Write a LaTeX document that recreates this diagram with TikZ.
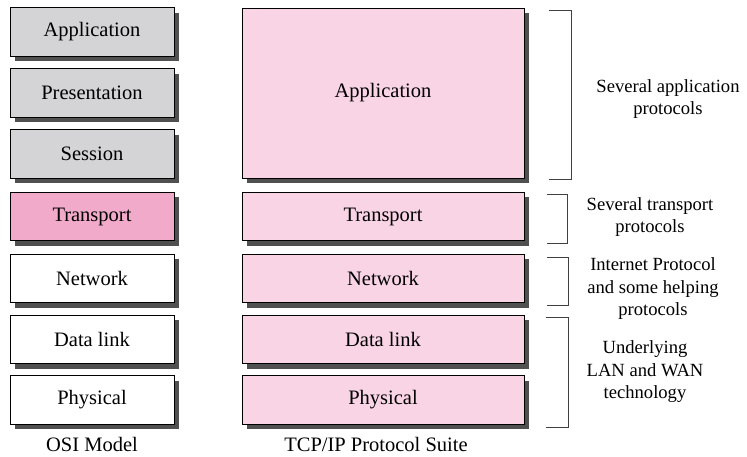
\documentclass[tikz,border=0pt]{standalone}
\usepackage{fontspec}
\setmainfont{Liberation Serif}
\definecolor{boxgray}{HTML}{D4D4D6}
\definecolor{pinkdark}{HTML}{F2AACB}
\definecolor{pinklight}{HTML}{F9D4E5}
\definecolor{shadowgray}{HTML}{505050}
\definecolor{brgray}{HTML}{404040}
\begin{document}
\begin{tikzpicture}[x=1pt,y=-1pt,
  layer/.style={draw=black, line width=0.9pt, minimum height=48.5pt,
    inner sep=0pt, font=\fontsize{20.5}{24}\selectfont},
  osi/.style={layer, minimum width=164pt},
  tcp/.style={layer, minimum width=282pt, fill=pinklight},
  shad/.style={fill=shadowgray},
  brk/.style={draw=brgray, line width=1pt},
  note/.style={align=center, font=\fontsize{18.6}{22.5}\selectfont},
  lbl/.style={font=\fontsize{20.5}{24}\selectfont}]
\useasboundingbox (0,0) rectangle (747,456);
% shadows (drawn first)
\fill[shad] (15,13) rectangle (179,61);
\fill[shad] (15,74) rectangle (179,122);
\fill[shad] (15,135) rectangle (179,183);
\fill[shad] (15,197) rectangle (179,246);
\fill[shad] (15,259) rectangle (179,308);
\fill[shad] (15,320) rectangle (179,369);
\fill[shad] (15,381) rectangle (179,429);
\fill[shad] (247,13) rectangle (529,183);
\fill[shad] (247,197) rectangle (529,246);
\fill[shad] (247,259) rectangle (529,308);
\fill[shad] (247,320) rectangle (529,369);
\fill[shad] (247,381) rectangle (529,429);
% OSI column
\node[osi, fill=boxgray] (oapp) at (92,32) {Application};
\node[osi, fill=boxgray] (opre) at (92,93) {Presentation};
\node[osi, fill=boxgray] (oses) at (92,154) {Session};
\node[osi, fill=pinkdark] (otra) at (92,216.5) {Transport};
\node[osi, fill=white] (onet) at (92,278.5) {Network};
\node[osi, fill=white] (odl) at (92,339.5) {Data link};
\node[osi, fill=white] (ophy) at (92,400) {Physical};
\node[lbl] (osilbl) at (92,444) {OSI Model};
% TCP/IP column
\node[tcp, minimum height=170pt] (tapp) at (383,93) {Application};
\node[tcp] (ttra) at (383,216.5) {Transport};
\node[tcp] (tnet) at (383,278.5) {Network};
\node[tcp] (tdl) at (383,339.5) {Data link};
\node[tcp] (tphy) at (383,400) {Physical};
\node[lbl] (tcplbl) at (376,444) {TCP/IP Protocol Suite};
% brackets
\coordinate (b1a) at (549,10); \coordinate (b1b) at (571,10);
\coordinate (b1c) at (571,179); \coordinate (b1d) at (549,179);
\draw[brk] (b1a) -- (b1b) -- (b1c) -- (b1d);
\coordinate (b2a) at (547,194); \coordinate (b2b) at (567,194);
\coordinate (b2c) at (567,243); \coordinate (b2d) at (547,243);
\draw[brk] (b2a) -- (b2b) -- (b2c) -- (b2d);
\coordinate (b3a) at (547,257); \coordinate (b3b) at (568,257);
\coordinate (b3c) at (568,305); \coordinate (b3d) at (547,305);
\draw[brk] (b3a) -- (b3b) -- (b3c) -- (b3d);
\coordinate (b4a) at (546,317); \coordinate (b4b) at (568,317);
\coordinate (b4c) at (568,427); \coordinate (b4d) at (546,427);
\draw[brk] (b4a) -- (b4b) -- (b4c) -- (b4d);
% notes
\node[note] (n1) at (668,99) {Several application\\protocols};
\node[note] (n2) at (650,217) {Several transport\\protocols};
\node[note] (n3) at (653,289) {Internet Protocol\\and some helping\\protocols};
\node[note] (n4) at (645,372) {Underlying\\LAN and WAN\\technology};
\end{tikzpicture}
\end{document}
